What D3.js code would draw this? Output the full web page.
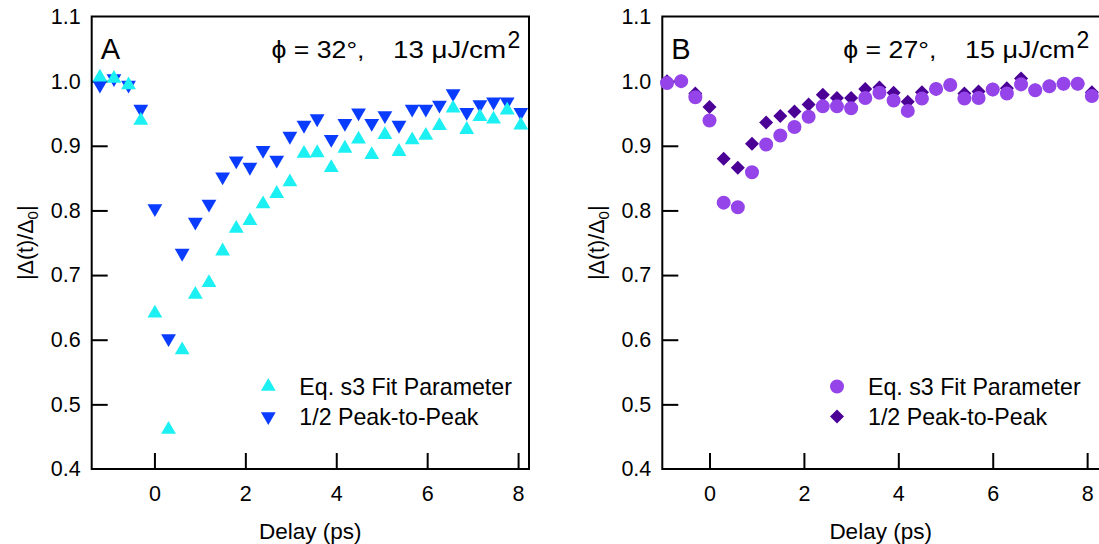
<!DOCTYPE html>
<html>
<head>
<meta charset="utf-8">
<script src="https://cdn.jsdelivr.net/npm/d3@7"></script>
<style>
  html, body { margin: 0; padding: 0; background: #fff; }
  svg { display: block; font-family: "Liberation Sans", Arial, sans-serif; }
  text { white-space: pre; }
</style>
</head>
<body>
<svg id="chart" width="1099" height="544"></svg>
<script>
// ---- Data ----
const delayA = [-1.20, -0.89, -0.57, -0.30, 0.01, 0.31, 0.61, 0.90, 1.20, 1.50, 1.80, 2.10, 2.39, 2.69, 2.98, 3.29, 3.58, 3.89, 4.19, 4.49, 4.78, 5.07, 5.38, 5.67, 5.97, 6.27, 6.57, 6.87, 7.16, 7.46, 7.76, 8.06];
const fitA = [1.006, 1.004, 0.994, 0.939, 0.641, 0.461, 0.584, 0.670, 0.688, 0.737, 0.772, 0.784, 0.810, 0.826, 0.844, 0.888, 0.889, 0.866, 0.896, 0.910, 0.886, 0.917, 0.891, 0.909, 0.916, 0.931, 0.958, 0.925, 0.945, 0.941, 0.955, 0.932];
const p2pA = [0.994, 1.004, 0.994, 0.957, 0.803, 0.602, 0.734, 0.782, 0.810, 0.852, 0.877, 0.867, 0.893, 0.878, 0.915, 0.932, 0.942, 0.910, 0.935, 0.951, 0.935, 0.947, 0.932, 0.957, 0.957, 0.963, 0.981, 0.952, 0.964, 0.968, 0.968, 0.952];

const delayB = [-0.9, -0.6, -0.3, 0.0, 0.3, 0.6, 0.9, 1.2, 1.5, 1.8, 2.1, 2.4, 2.7, 3.0, 3.3, 3.6, 3.9, 4.2, 4.5, 4.8, 5.1, 5.4, 5.7, 6.0, 6.3, 6.6, 6.9, 7.2, 7.5, 7.8, 8.1];
const fitB = [0.997, 1.000, 0.975, 0.939, 0.812, 0.805, 0.859, 0.902, 0.916, 0.929, 0.945, 0.961, 0.961, 0.958, 0.974, 0.982, 0.970, 0.954, 0.973, 0.988, 0.994, 0.973, 0.974, 0.987, 0.981, 0.995, 0.986, 0.992, 0.996, 0.996, 0.977];
const p2pB = [1.000, 1.000, 0.981, 0.960, 0.880, 0.866, 0.903, 0.936, 0.946, 0.953, 0.964, 0.979, 0.974, 0.974, 0.988, 0.990, 0.982, 0.968, 0.983, 0.988, 0.994, 0.981, 0.984, 0.987, 0.989, 1.004, 0.986, 0.992, 0.996, 0.996, 0.983];

const xTicks = [0, 2, 4, 6, 8];
const yTicks = [0.4, 0.5, 0.6, 0.7, 0.8, 0.9, 1.0, 1.1];
const seriesNames = ["Eq. s3 Fit Parameter", "1/2 Peak-to-Peak"];
const panelLabels = ["A", "B"];
const angleLabels = ["ϕ = 32°,", "ϕ = 27°,"];
const fluenceLabels = ["13 μJ/cm", "15 μJ/cm"];

// ---- Drawing ----
const svg = d3.select("#chart");
const FONT_TICK = 21.5;

const panels = [
  { label: panelLabels[0], angle: angleLabels[0], fluence: fluenceLabels[0],
    x: delayA, s1: fitA, s2: p2pA,
    xDomain: [-1.38, 8.24], left: 91.7, right: 529,
    titleX: [271.5, 393, 507.5], titleW: [93, 113], legX: 268.3,
    c1: "#1cf0f2", c2: "#0a3cff", m1: "triUp", m2: "triDown", ylabX: 33 },
  { label: panelLabels[1], angle: angleLabels[1], fluence: fluenceLabels[1],
    x: delayB, s1: fitB, s2: p2pB,
    xDomain: [-1.0, 8.3], left: 662.3, right: 1101.3,
    titleX: [843.3, 965, 1076.5], titleW: [93, 110], legX: 837,
    c1: "#9444e8", c2: "#4b0096", m1: "circle", m2: "diamond", ylabX: 604 }
];
const plotTop = 16.5, plotBottom = 469;

function markerPath(type) {
  if (type === "triUp") return d3.symbol().type(d3.symbolTriangle).size(95)();
  if (type === "triDown") return d3.symbol().type(d3.symbolTriangle).size(95)();
  if (type === "circle") return d3.symbol().type(d3.symbolCircle).size(154)();
  if (type === "diamond") return d3.symbol().type(d3.symbolSquare).size(98)();
}
function markerRot(type) {
  if (type === "triDown") return " rotate(180)";
  if (type === "diamond") return " rotate(45)";
  return "";
}

panels.forEach(p => {
  const x = d3.scaleLinear().domain(p.xDomain).range([p.left, p.right]);
  const y = d3.scaleLinear().domain([0.4, 1.1]).range([plotBottom, plotTop]);
  const g = svg.append("g");

  // frame
  g.append("rect").attr("x", p.left).attr("y", plotTop)
    .attr("width", p.right - p.left).attr("height", plotBottom - plotTop)
    .attr("fill", "none").attr("stroke", "#000").attr("stroke-width", 2);

  // x axis
  const xAxis = d3.axisBottom(x).tickValues(xTicks).tickSizeInner(-16).tickSizeOuter(0).tickPadding(17).tickFormat(d3.format("d"));
  const gx = g.append("g").attr("transform", `translate(0,${plotBottom})`).call(xAxis);
  gx.select(".domain").remove();
  gx.selectAll("line").attr("stroke-width", 2);
  gx.selectAll("text").attr("font-size", FONT_TICK).attr("font-family", "Liberation Sans, Arial, sans-serif").attr("fill", "#000").attr("dy", "0.71em");

  // y axis
  const yAxis = d3.axisLeft(y).tickValues(yTicks).tickSizeInner(-16).tickSizeOuter(0).tickPadding(11).tickFormat(d3.format(".1f"));
  const gy = g.append("g").attr("transform", `translate(${p.left},0)`).call(yAxis);
  gy.select(".domain").remove();
  gy.selectAll("line").attr("stroke-width", 2);
  gy.selectAll(".tick").filter(d => d === 0.4 || d === 1.1).select("line").remove();
  gy.selectAll("text").attr("font-size", FONT_TICK).attr("font-family", "Liberation Sans, Arial, sans-serif").attr("fill", "#000");

  // axis titles
  const xMid = (p.left + Math.min(p.right, 1099)) / 2;
  g.append("text").attr("x", xMid).attr("y", 539)
    .attr("text-anchor", "middle").attr("font-size", 22.5).text("Delay (ps)");
  const yl = g.append("text").attr("transform", `translate(${p.ylabX},${(plotTop + plotBottom) / 2}) rotate(-90)`)
    .attr("text-anchor", "middle").attr("font-size", 21.5);
  yl.append("tspan").text("|Δ(t)/Δ");
  yl.append("tspan").attr("font-size", 15).attr("dy", 5).text("0");
  yl.append("tspan").attr("dy", -5).text("|");

  // markers: series 2 first (underneath), then series 1
  const d2 = p.x.map((v, i) => [v, p.s2[i]]);
  const d1 = p.x.map((v, i) => [v, p.s1[i]]);
  g.append("g").selectAll("path").data(d2).join("path")
    .attr("d", markerPath(p.m2))
    .attr("transform", d => `translate(${x(d[0])},${y(d[1])})${markerRot(p.m2)}`)
    .attr("fill", p.c2);
  g.append("g").selectAll("path").data(d1).join("path")
    .attr("d", markerPath(p.m1))
    .attr("transform", d => `translate(${x(d[0])},${y(d[1])})${markerRot(p.m1)}`)
    .attr("fill", p.c1);

  // panel label
  g.append("text").attr("x", p.left + 9).attr("y", 58.5).attr("font-size", 29).text(p.label);

  // title pieces
  g.append("text").attr("x", p.titleX[0]).attr("y", 58.3).attr("font-size", 24)
    .attr("textLength", p.titleW[0]).attr("lengthAdjust", "spacingAndGlyphs").text(p.angle);
  g.append("text").attr("x", p.titleX[1]).attr("y", 58.3).attr("font-size", 24)
    .attr("textLength", p.titleW[1]).attr("lengthAdjust", "spacingAndGlyphs").text(p.fluence);
  g.append("text").attr("x", p.titleX[2]).attr("y", 48).attr("font-size", 23).text("2");

  // legend
  const ly = [386.5, 416.5];
  [[p.m1, p.c1], [p.m2, p.c2]].forEach((m, i) => {
    g.append("path").attr("d", markerPath(m[0]))
      .attr("transform", `translate(${p.legX},${ly[i]})${markerRot(m[0])}`)
      .attr("fill", m[1]);
    g.append("text").attr("x", p.legX + 31).attr("y", ly[i] + 8.5).attr("font-size", 23.2).text(seriesNames[i]);
  });
});
</script>
</body>
</html>
